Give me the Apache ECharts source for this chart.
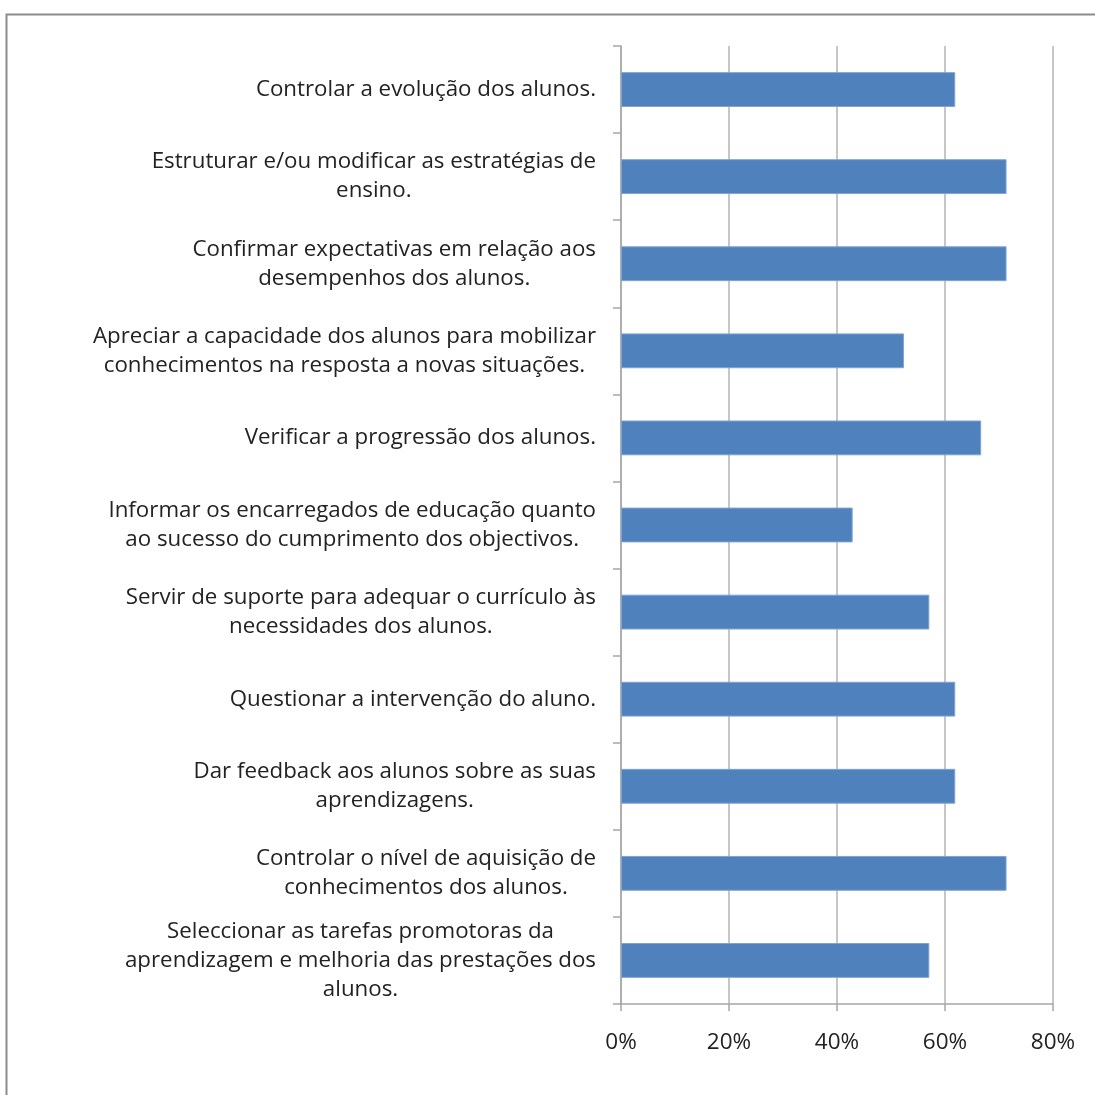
<!DOCTYPE html>
<html>
<head>
<meta charset="utf-8">
<script src="https://cdn.jsdelivr.net/npm/echarts@6/dist/echarts.min.js"></script>
<style>html,body{margin:0;padding:0;background:#fff}#c{width:1095px;height:1095px}</style>
</head>
<body>
<div id="c"></div>
<script>
const categories = [
  "Controlar a evolução dos alunos.",
  "Estruturar e/ou modificar as estratégias de\nensino.",
  "Confirmar expectativas em relação aos\ndesempenhos dos alunos.",
  "Apreciar a capacidade dos alunos para mobilizar\nconhecimentos na resposta a novas situações.",
  "Verificar a progressão dos alunos.",
  "Informar os encarregados de educação quanto\nao sucesso do cumprimento dos objectivos.",
  "Servir de suporte para adequar o currículo às\nnecessidades dos alunos.",
  "Questionar a intervenção do aluno.",
  "Dar feedback aos alunos sobre as suas\naprendizagens.",
  "Controlar o nível de aquisição de\nconhecimentos dos alunos.",
  "Seleccionar as tarefas promotoras da\naprendizagem e melhoria das prestações dos\nalunos."
];
const values = [61.9, 71.4, 71.4, 52.4, 66.7, 42.9, 57.1, 61.9, 61.9, 71.4, 57.1];
const xTicks = [0, 20, 40, 60, 80];

const chart = echarts.init(document.getElementById('c'));
chart.setOption({
  animation: false,
  backgroundColor: '#fff',
  graphic: [{
    type: 'rect', left: 4, top: 12, shape: { width: 1300, height: 1300 },
    style: { fill: 'none', stroke: '#8c8c8c', lineWidth: 2 }, silent: true
  }],
  grid: { left: 621, top: 46, right: 42, bottom: 91, containLabel: false },
  xAxis: {
    type: 'value', min: xTicks[0], max: xTicks[xTicks.length - 1], interval: 20,
    axisLine: { show: true, lineStyle: { color: '#a6a6a6', width: 1.5 } },
    axisTick: { show: true, length: 7, lineStyle: { color: '#a6a6a6', width: 1.5 } },
    splitLine: { show: true, lineStyle: { color: '#b3b3b3', width: 1.5 } },
    axisLabel: { formatter: v => v + '%', color: '#222', fontSize: 22.5, fontFamily: 'Open Sans', margin: 27 }
  },
  yAxis: {
    type: 'category', inverse: true, data: categories,
    axisLine: { show: true, lineStyle: { color: '#a6a6a6', width: 1.5 } },
    axisTick: { show: true, length: 8, inside: false, alignWithLabel: false, lineStyle: { color: '#a6a6a6', width: 1.5 } },
    axisLabel: {
      margin: 25, interval: 0, align: 'right',
      formatter: v => v.split('\n').map(s => '{a|' + s + '}').join('\n'),
      rich: { a: { align: 'center', color: '#222', fontSize: 22.3, fontFamily: 'Open Sans', lineHeight: 29 } }
    }
  },
  series: [{
    type: 'bar', data: values, barWidth: '40%',
    itemStyle: { color: '#4f81bd', borderColor: '#7fa3d3', borderWidth: 1 }
  }]
});
</script>
</body>
</html>
